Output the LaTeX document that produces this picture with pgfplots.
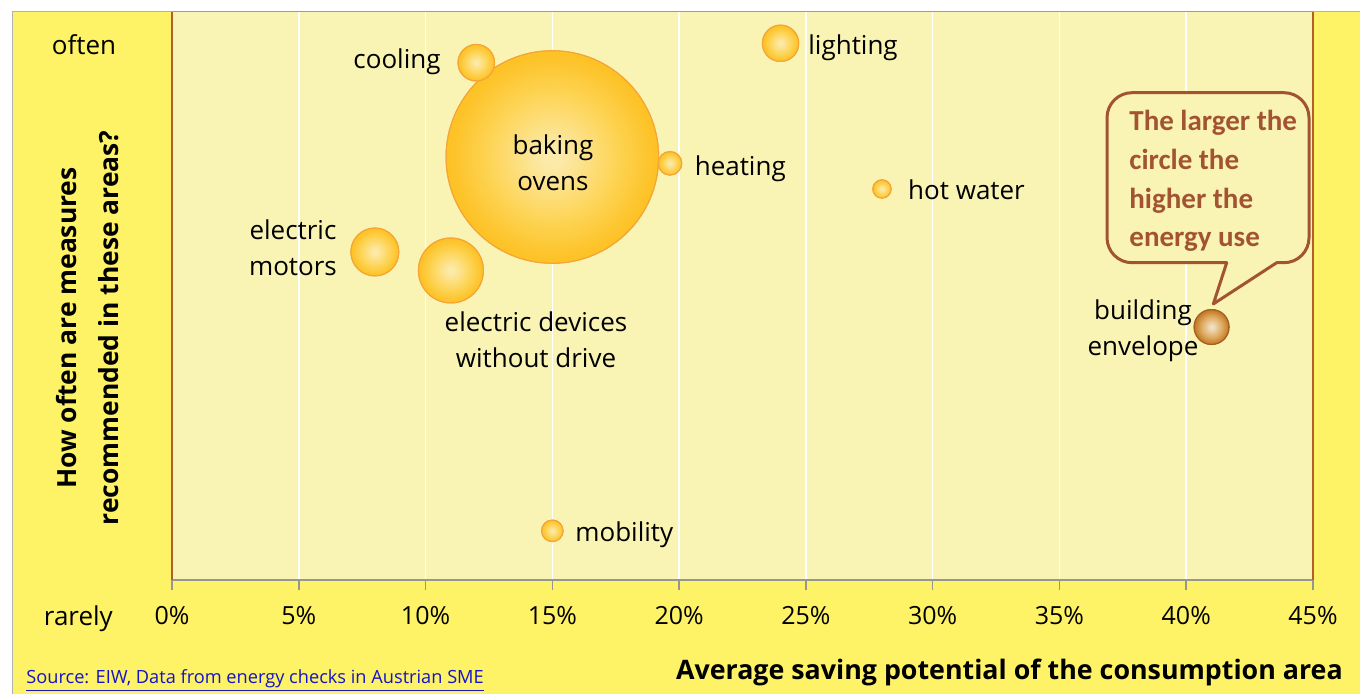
\documentclass[border=0pt]{standalone}
\usepackage{fontspec}
\setmainfont{Open Sans}
\newfontfamily\calfont{Carlito}
\usepackage{pgfplots}
\pgfplotsset{compat=1.18}
\usepackage{pgfplotstable}

\definecolor{outery}{RGB}{254,242,102}
\definecolor{plotbg}{RGB}{250,244,180}
\definecolor{axgray}{RGB}{150,150,150}
\definecolor{brownb}{RGB}{178,95,40}
\definecolor{tanb}{RGB}{190,150,95}
\definecolor{bubin}{RGB}{252,234,170}
\definecolor{bubmid}{RGB}{253,212,85}
\definecolor{bubout}{RGB}{253,194,38}
\definecolor{bubedge}{RGB}{245,165,55}
\definecolor{bldin}{RGB}{240,224,195}
\definecolor{bldmid}{RGB}{222,170,95}
\definecolor{bldout}{RGB}{196,122,40}
\definecolor{bldedge}{RGB}{165,95,35}
\definecolor{calbrown}{RGB}{162,84,50}
\definecolor{srcblue}{RGB}{20,20,200}

\pgfdeclareradialshading{bubY}{\pgfpoint{0bp}{0bp}}{color(0bp)=(bubin); color(2bp)=(bubin); color(15bp)=(bubmid); color(24bp)=(bubout); color(50bp)=(bubout)}
\pgfdeclareradialshading{bubB}{\pgfpoint{0bp}{0bp}}{color(0bp)=(bldin); color(2bp)=(bldin); color(15bp)=(bldmid); color(24bp)=(bldout); color(50bp)=(bldout)}

\pgfplotsset{bubble/.style 2 args={only marks, scatter, mark=o,
  mark options={draw=#1, line width=0.5pt},
  visualization depends on={\thisrow{r} \as \rad},
  scatter/@pre marker code/.code={\pgfsetplotmarksize{\rad pt}\shade[shading=#2] (0,0) circle (\rad pt);},
  scatter/@post marker code/.code={}}}

\pgfplotstableread{
x y r
15 74.47 53.15
}\tbake
\pgfplotstableread{
x y r
12 91.07 9.15
19.64 73.36 5.9
24 94.49 9.1
28 68.84 4.6
8 57.75 12
11 54.49 16.25
15 8.66 5.4
}\tsmall
\pgfplotstableread{
x y r
41 44.54 8.75
}\tbuild

\newcommand{\lab}{\fontsize{13}{18}\selectfont}

\begin{document}
\begin{tikzpicture}
\useasboundingbox (0,0) rectangle (680pt,-347pt);
\fill[white] (0,0) rectangle (680pt,-347pt);
\fill[outery] (6pt,-6pt) rectangle (680pt,-347pt);
\draw[gray!60, line width=0.5pt] (6pt,-347pt) -- (6pt,-6pt) -- (680pt,-6pt);

\begin{axis}[at={(86pt,-290pt)}, anchor=south west, scale only axis,
  width=570.5pt, height=284pt,
  xmin=0, xmax=45, ymin=0, ymax=100,
  axis background/.style={fill=plotbg},
  axis line style={draw=none},
  xtick={0,5,...,45},
  xticklabels={0\%,5\%,10\%,15\%,20\%,25\%,30\%,35\%,40\%,45\%},
  ytick=\empty,
  xtick pos=bottom, tick align=outside, major tick length=5pt,
  xmajorgrids, grid style={draw=white, line width=0.8pt},
  tick style={draw=axgray, line width=0.8pt},
  xticklabel style={font=\fontsize{12.5}{15}\selectfont, anchor=base, yshift=-17pt},
  clip=false]
\addplot[bubble={bubedge}{bubY}] table {\tbake};
\addplot[bubble={bubedge}{bubY}] table {\tsmall};
\addplot[bubble={bldedge}{bubB}] table {\tbuild};
\draw[axgray, line width=0.9pt] (rel axis cs:0,0) -- (rel axis cs:1,0);
\draw[brownb, line width=0.8pt] (rel axis cs:0,0) -- (rel axis cs:0,1);
\draw[brownb, line width=0.8pt] (rel axis cs:1,0) -- (rel axis cs:1,1);
\draw[tanb, line width=0.5pt] (rel axis cs:0,1) -- (rel axis cs:1,1);
\end{axis}

% labels
\begin{scope}[every node/.style={inner sep=0pt, font=\lab}]
\node[anchor=base east] at (220.5pt,-34.5pt) {cooling};
\node[anchor=base west] at (404pt,-27.3pt) {lighting};
\node[anchor=base west] at (347.2pt,-87.85pt) {heating};
\node[anchor=base west] at (453.9pt,-99.65pt) {hot water};
\node[anchor=base west] at (287.5pt,-270.8pt) {mobility};
\node[anchor=base] at (42pt,-27.5pt) {often};
\node[anchor=base] at (39.2pt,-312.5pt) {rarely};
\node[align=center] at (146.5pt,-124pt) {electric\\motors};
\node[align=center] at (268pt,-169.75pt) {electric devices\\without drive};
\node[align=center] at (276.5pt,-81.5pt) {baking\\ovens};
\node[align=center] at (571.5pt,-165.5pt) {building\\envelope};
\end{scope}

\node[anchor=base east, inner sep=0pt, font=\bfseries\fontsize{13.4}{17}\selectfont] at (671.6pt,-339.6pt) {Average saving potential of the consumption area};
\node[rotate=90, align=center, font=\bfseries\fontsize{13.2}{21}\selectfont] at (44pt,-164pt) {How often are measures\\recommended in these areas?};
\node[anchor=base west, inner sep=0pt, font=\fontsize{9.1}{11}\selectfont, text=srcblue] at (13pt,-341.5pt) {\underline{Source: EIW, Data from energy checks in Austrian SME}};

% callout
\draw[line width=1.5pt, draw=calbrown, fill=plotbg, line join=round]
  (613.35pt,-131.35pt) -- (606.65pt,-152pt) -- (638.35pt,-131.35pt)
  [rounded corners=12.5pt] -- (654.5pt,-131.35pt) -- (654.5pt,-46.35pt) -- (553.5pt,-46.35pt) -- (553.5pt,-131.35pt) [sharp corners] -- cycle;
\node[anchor=west, align=left, inner sep=0pt, text=calbrown, font=\calfont\bfseries\fontsize{14.5}{19.35}\selectfont] at (564.5pt,-90.5pt) {The larger the\\circle the\\higher the\\energy use};
\end{tikzpicture}
\end{document}
